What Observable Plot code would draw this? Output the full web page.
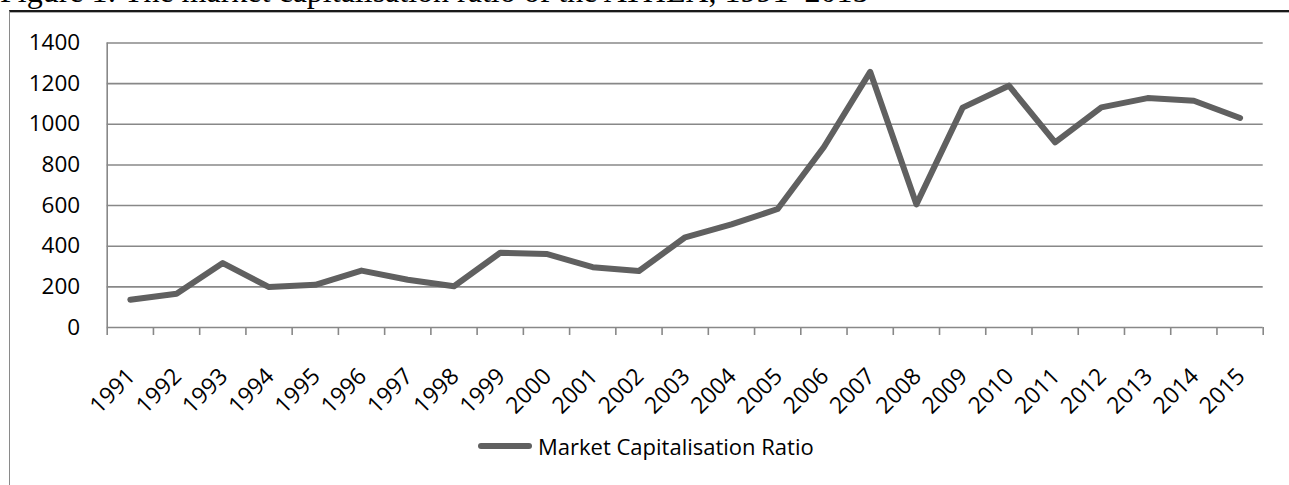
<!DOCTYPE html>
<html>
<head>
<meta charset="utf-8">
<script src="https://cdn.jsdelivr.net/npm/d3@7"></script>
<script src="https://cdn.jsdelivr.net/npm/@observablehq/plot@0.6"></script>
<style>
  html, body { margin: 0; padding: 0; background: #fff; }
  #wrap { position: relative; width: 1289px; height: 485px; overflow: hidden; background: #fff; }
  #title { position: absolute; left: 0; top: -29px; font-family: "Liberation Serif", "Times New Roman", serif; font-size: 32px; line-height: 40px; color: #000; white-space: nowrap; }
  #frame { position: absolute; left: 9px; top: 10px; width: 1300px; height: 500px; border-top: 2px solid #1a1a1a; border-left: 1.5px solid #8a8a8a; box-shadow: inset 0 1px 0 #b0b0b0; }
  #chart { position: absolute; left: 0; top: 0; }
  #legend { position: absolute; left: 478px; top: 431px; display: flex; align-items: center; font-family: "Open Sans", sans-serif; font-size: 22px; color: #000; }
  #legend .sw { width: 54px; height: 6px; border-radius: 3px; background: #606060; margin-right: 6px; }
</style>
</head>
<body>
<div id="wrap">
  <div id="title">Figure 1: The market capitalisation ratio of the ATHEX, 1991–2015</div>
  <div id="frame"></div>
  <div id="chart"></div>
  <div id="legend"><span class="sw"></span><span>Market Capitalisation Ratio</span></div>
</div>
<script>
const years = [1991,1992,1993,1994,1995,1996,1997,1998,1999,2000,2001,2002,2003,2004,2005,2006,2007,2008,2009,2010,2011,2012,2013,2014,2015];
const ratio = [137,166,317,199,210,280,235,203,368,362,297,278,444,507,583,888,1258,606,1082,1190,911,1083,1129,1116,1031];
const yTicks = [0,200,400,600,800,1000,1200,1400];
const seriesName = "Market Capitalisation Ratio";

const data = years.map((y, i) => ({year: y, value: ratio[i]}));
const bounds = years.map(y => y - 0.5).concat([years[years.length - 1] + 0.5]);

const axisFont = "Open Sans, sans-serif";

const chart = Plot.plot({
  width: 1289,
  height: 485,
  marginLeft: 106.7,
  marginRight: 26.3,
  marginTop: 42.5,
  marginBottom: 158,
  style: {background: "transparent", fontFamily: axisFont, color: "#000"},
  x: {type: "linear", domain: [bounds[0], bounds[bounds.length - 1]]},
  y: {domain: [0, 1400]},
  marks: [
    Plot.gridY(yTicks, {stroke: "#888888", strokeOpacity: 1, strokeWidth: 1.6}),
    Plot.ruleX([bounds[0]], {stroke: "#888888", strokeWidth: 1.6}),
    Plot.axisX({ticks: bounds, tickSize: 8, tickFormat: () => "", stroke: "#888888", strokeWidth: 1.6, label: null}),
    Plot.axisX({ticks: years, tickSize: 0, tickPadding: 45, dx: 1, tickRotate: -45, tickFormat: d => String(d), fontSize: 23, label: null, fill: "#000"}),
    Plot.axisY({ticks: yTicks, tickSize: 0, tickPadding: 27, fontSize: 22.5, label: null, fill: "#000", tickFormat: d => String(d)}),
    Plot.line(data, {x: "year", y: "value", stroke: "#606060", strokeWidth: 6, strokeLinejoin: "round", strokeLinecap: "round"})
  ]
});
document.getElementById("chart").appendChild(chart);
</script>
</body>
</html>
